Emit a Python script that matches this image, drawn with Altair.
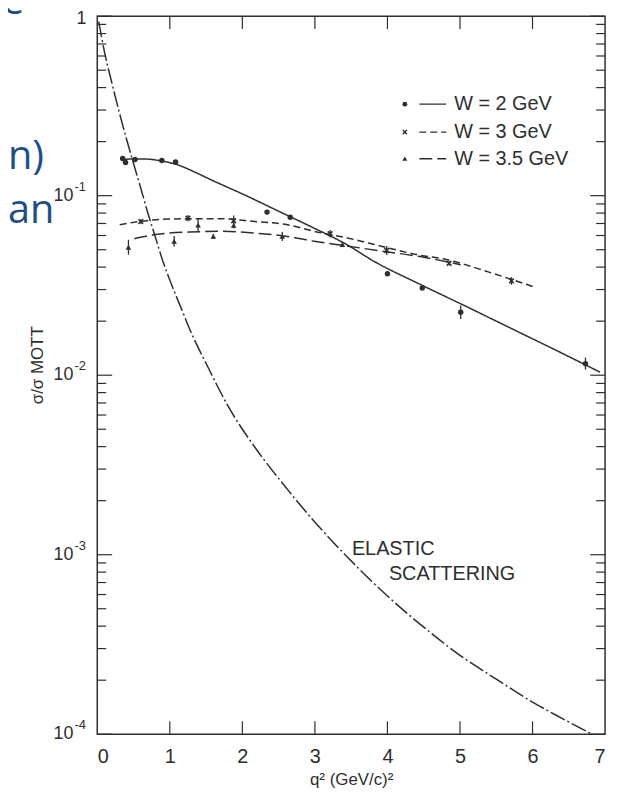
import altair as alt
import pandas as pd

# ---------------- data ----------------
series = ["W = 2 GeV", "W = 3 GeV", "W = 3.5 GeV"]

# measured points (q^2 in (GeV/c)^2, sigma/sigma_Mott)
w2_q2 = [0.35, 0.39, 0.52, 0.89, 1.08, 2.34, 2.66, 4.00, 4.48, 5.01, 6.73]
w2_val = [0.161, 0.153, 0.159, 0.157, 0.154, 0.081, 0.0759, 0.0367, 0.0306, 0.0224, 0.0116]
w2_err = [0, 0, 0, 0, 0, 0, 0, 0, 0, 0.09, 0.08]

w3_q2 = [0.60, 1.25, 1.88, 3.21, 3.99, 4.85, 5.71]
w3_val = [0.0718, 0.0749, 0.0725, 0.0614, 0.0495, 0.0420, 0.0335]
w3_err = [0.03, 0.04, 0.07, 0.05, 0.06, 0.03, 0.05]

w35_q2 = [0.43, 1.06, 1.39, 1.60, 1.88, 2.55, 3.38]
w35_val = [0.0516, 0.0557, 0.0687, 0.0593, 0.0683, 0.0593, 0.0534]
w35_err = [0.10, 0.07, 0.09, 0.03, 0.04, 0.06, 0.03]

# fitted curves
w2c_q2 = [0.34, 0.44, 0.65, 0.89, 1.12, 1.35, 1.58, 2.03, 2.49, 2.94, 3.40, 3.85, 4.40, 5.10, 5.77, 6.40, 6.93]
w2c_val = [0.158, 0.160, 0.160, 0.156, 0.148, 0.135, 0.122, 0.101, 0.0823, 0.0674, 0.0545, 0.0423, 0.0328, 0.0240, 0.0177, 0.0133, 0.0104]

w3c_q2 = [0.31, 0.80, 1.26, 1.71, 2.17, 2.62, 2.99, 3.45, 3.90, 4.40, 4.81, 5.40, 6.02]
w3c_val = [0.0689, 0.0734, 0.0744, 0.0744, 0.0718, 0.0689, 0.0633, 0.0581, 0.0525, 0.0470, 0.0441, 0.0375, 0.0310]

w35c_q2 = [0.51, 0.80, 1.26, 1.71, 2.17, 2.62, 2.99, 3.44, 3.90, 4.45, 5.01]
w35c_val = [0.0576, 0.0607, 0.0627, 0.0633, 0.0619, 0.0593, 0.0557, 0.0525, 0.0492, 0.0458, 0.0412]

# elastic scattering curve
el_q2 = [0.02, 0.10, 0.20, 0.30, 0.40, 0.50, 0.60, 0.70, 0.80, 0.90, 1.00, 1.17, 1.26, 1.53, 1.80,
         2.17, 2.53, 2.94, 3.44, 4.00, 4.58, 5.00, 5.49, 6.00, 6.40, 6.82]
el_val = [0.933, 0.631, 0.427, 0.295, 0.209, 0.151, 0.110, 0.0794, 0.0589, 0.0437, 0.0339, 0.0229,
          0.0186, 0.0110, 0.00676, 0.00398, 0.00257, 0.00162, 0.000977, 0.000589, 0.000372,
          0.000275, 0.000204, 0.000151, 0.000123, 0.000100]

# axes
x_tick_labels = [0, 1, 2, 3, 4, 5, 6, 7]
x_inner_ticks = [1, 2, 3, 4, 5, 6]
y_decades = [1e-4, 1e-3, 1e-2, 1e-1]
y_exponents = ["-4", "-3", "-2", "-1"]
y_minor = [m * d for d in y_decades for m in [2, 3, 4, 5, 6, 7, 8, 9]]

# legend / annotations
leg_y = [0.3236, 0.226, 0.1607]
leg_marker_q2 = 4.24
leg_line_q2 = [4.44, 4.81]
leg_text_q2 = 4.92
ann_text = ["ELASTIC", "SCATTERING"]
ann_q2 = [3.51, 4.02]
ann_val = [0.00107, 0.00078]

# ---------------- chart ----------------
W, H = 512, 724
INK = "#2e2e2e"
FONT = "Liberation Sans"
BLUE = "#1f4e86"
XSHAPE = "M-1,-1L1,1M-1,1L1,-1"

xs = alt.Scale(domain=[0, 7], nice=False, zero=False)
ys = alt.Scale(type="log", domain=[1e-4, 1], nice=False)
dash_scale = alt.Scale(domain=series + ["ELASTIC"],
                       range=[[1, 0], [7, 4], [13, 5], [16, 3, 2, 3]])

x_axis = alt.Axis(values=x_tick_labels, format="d", ticks=False, domain=False, grid=False,
                  labelFont=FONT, labelFontSize=20, labelColor=INK, labelPadding=13,
                  title="q² (GeV/c)²", titleFont=FONT, titleFontSize=17,
                  titleFontWeight="normal", titleColor=INK, titlePadding=5)


def X(field="q2"):
    return alt.X(f"{field}:Q", scale=xs, axis=x_axis)


def Y(field="val"):
    return alt.Y(f"{field}:Q", scale=ys, axis=None)


curves = pd.concat([
    pd.DataFrame({"q2": w2c_q2, "val": w2c_val, "series": series[0]}),
    pd.DataFrame({"q2": w3c_q2, "val": w3c_val, "series": series[1]}),
    pd.DataFrame({"q2": w35c_q2, "val": w35c_val, "series": series[2]}),
    pd.DataFrame({"q2": el_q2, "val": el_val, "series": "ELASTIC"}),
])

lines = alt.Chart(curves).mark_line(clip=True, strokeWidth=1.5, color=INK,
                                    interpolate="monotone").encode(
    x=X(), y=Y(),
    strokeDash=alt.StrokeDash("series:N", scale=dash_scale, legend=None),
    detail="series:N",
)

# (q, val, err, shape, filled, size)
pts_data = [
    (w2_q2, w2_val, w2_err, "circle", True, 30),
    (w3_q2, w3_val, w3_err, XSHAPE, False, 22),
    (w35_q2, w35_val, w35_err, "triangle-up", True, 32),
]
layers = [lines]
for (q, v, e, shape, filled, size) in pts_data:
    d = pd.DataFrame({"q2": q, "val": v, "err": e})
    d["lo"] = d["val"] / (1 + d["err"])
    d["hi"] = d["val"] * (1 + d["err"])
    layers.append(alt.Chart(d[d["err"] > 0]).mark_rule(color=INK, strokeWidth=1.3).encode(
        x=X(), y=Y("lo"), y2="hi"))
    layers.append(alt.Chart(d).mark_point(shape=shape, filled=filled, size=size, strokeWidth=1.6,
                                          color=INK, opacity=1).encode(x=X(), y=Y()))

# inward ticks
maj = pd.DataFrame({"v": y_decades + [1.0]})
mnr = pd.DataFrame({"v": y_minor})
xt = pd.DataFrame({"q": x_inner_ticks})
tick = dict(color=INK, strokeWidth=1.2)
layers += [
    alt.Chart(maj).mark_rule(**tick).encode(y=Y("v"), x=alt.value(0), x2=alt.value(15)),
    alt.Chart(maj).mark_rule(**tick).encode(y=Y("v"), x=alt.value(W), x2=alt.value(W - 15)),
    alt.Chart(mnr).mark_rule(**tick).encode(y=Y("v"), x=alt.value(0), x2=alt.value(9)),
    alt.Chart(mnr).mark_rule(**tick).encode(y=Y("v"), x=alt.value(W), x2=alt.value(W - 9)),
    alt.Chart(xt).mark_rule(**tick).encode(x=X("q"), y=alt.value(H), y2=alt.value(H - 13)),
    alt.Chart(xt).mark_rule(**tick).encode(x=X("q"), y=alt.value(0), y2=alt.value(13)),
]

# y labels 10^n
ylab = pd.DataFrame({"v": y_decades, "exp": y_exponents, "base": "10"})
layers += [
    alt.Chart(ylab).mark_text(align="right", baseline="middle", font=FONT, fontSize=18,
                              color=INK).encode(y=Y("v"), x=alt.value(-24), text="base:N"),
    alt.Chart(ylab).mark_text(align="left", baseline="middle", font=FONT, fontSize=13,
                              color=INK, dy=-9).encode(y=Y("v"), x=alt.value(-23), text="exp:N"),
    alt.Chart(pd.DataFrame({"v": [1.0], "t": ["1"]})).mark_text(
        align="right", baseline="middle", font=FONT, fontSize=18, color=INK, dy=3).encode(
        y=Y("v"), x=alt.value(-11), text="t:N"),
    alt.Chart(pd.DataFrame({"t": ["σ/σ MOTT"]})).mark_text(
        angle=270, align="center", baseline="middle", font=FONT, fontSize=17,
        color=INK).encode(x=alt.value(-60), y=alt.value(352), text="t:N"),
]

# legend
leg = pd.DataFrame({"series": series, "val": leg_y, "q2": leg_marker_q2,
                    "a": leg_line_q2[0], "b": leg_line_q2[1], "tq": leg_text_q2})
for i, (q, v, e, shape, filled, size) in enumerate(pts_data):
    layers.append(alt.Chart(leg.iloc[[i]]).mark_point(
        shape=shape, filled=filled, size=size * 0.8, strokeWidth=1.4, color=INK,
        opacity=1).encode(x=X("q2"), y=Y()))
layers += [
    alt.Chart(leg).mark_rule(color=INK, strokeWidth=1.4).encode(
        x=X("a"), x2="b", y=Y(),
        strokeDash=alt.StrokeDash("series:N", scale=dash_scale, legend=None)),
    alt.Chart(leg).mark_text(align="left", baseline="middle", font=FONT, fontSize=20,
                             color=INK).encode(x=X("tq"), y=Y(), text="series:N"),
]

# annotation
ann = pd.DataFrame({"q2": ann_q2, "val": ann_val, "t": ann_text})
layers.append(alt.Chart(ann).mark_text(align="left", baseline="middle", font=FONT,
                                       fontSize=20, color=INK).encode(
    x=X(), y=Y(), text="t:N"))

# slide text fragments at the left edge
frag = [("e", -96, -2), ("n)", -90, 154), ("an", -90, 209)]
for t, px, py in frag:
    layers.append(alt.Chart(pd.DataFrame({"t": [t]})).mark_text(
        align="left", baseline="alphabetic", font="Open Sans", fontSize=40, color=BLUE).encode(
        x=alt.value(px), y=alt.value(py), text="t:N"))

chart = alt.layer(*layers).properties(
    width=W, height=H,
    padding={"left": 90, "top": 5, "right": 8, "bottom": 54},
    autosize=alt.AutoSizeParams(type="none"),
).configure_view(stroke=INK, strokeWidth=1.5)

chart.save("out.html", embed_options={"renderer": "svg", "actions": False})
